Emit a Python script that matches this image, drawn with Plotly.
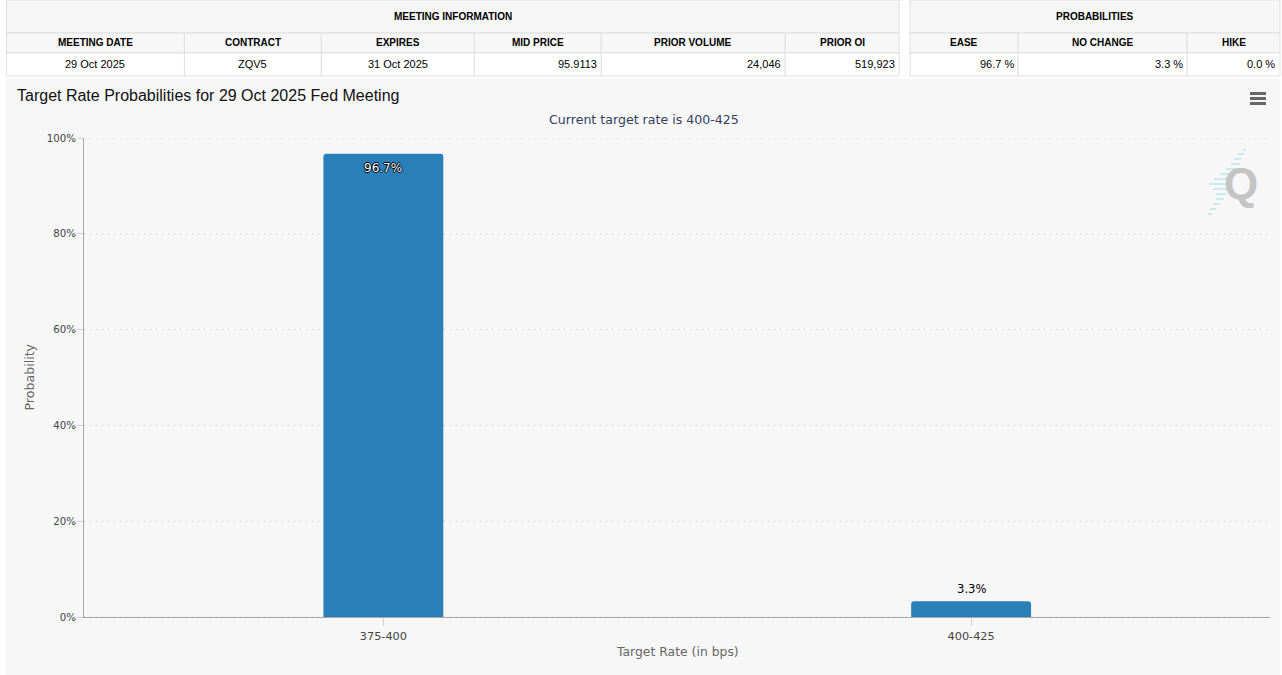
import plotly.graph_objects as go

# ---------- data ----------
categories = ["375-400", "400-425"]
probabilities = [96.7, 3.3]
bar_labels = ["96.7%", "3.3%"]
y_ticks = [0, 20, 40, 60, 80, 100]
y_tick_labels = ["0%", "20%", "40%", "60%", "80%", "100%"]

meeting_header = ["MEETING DATE", "CONTRACT", "EXPIRES", "MID PRICE", "PRIOR VOLUME", "PRIOR OI"]
meeting_values = ["29 Oct 2025", "ZQV5", "31 Oct 2025", "95.9113", "24,046", "519,923"]
meeting_aligns = ["center", "center", "center", "right", "right", "right"]
prob_header = ["EASE", "NO CHANGE", "HIKE"]
prob_values = ["96.7 %", "3.3 %", "0.0 %"]
prob_aligns = ["right", "right", "right"]

# ---------- page geometry (pixels) ----------
W, H = 1282, 675
L, R, T, B = 83.5, 1270, 138, 617
meeting_edges = [6, 184, 321, 474, 601, 785, 899]
prob_edges = [910, 1018, 1187, 1280]
ROWS = [0, 33, 53, 76]


def px(x):
    return (x - L) / (R - L)


def py(y):
    return (B - y) / (B - T)


shapes, notes = [], []


def rect(x0, y0, x1, y1, fill="rgba(0,0,0,0)", line="#e0e0e0", width=1):
    shapes.append(dict(type="rect", xref="paper", yref="paper", layer="below",
                       x0=px(x0), x1=px(x1), y0=py(y0), y1=py(y1), fillcolor=fill,
                       line=dict(color=line, width=width)))


def text(x, y, s, size=10, color="#000", family="Liberation Sans", anchor="center", bold=False, **kw):
    notes.append(dict(xref="paper", yref="paper", x=px(x), y=py(y), text=f"<b>{s}</b>" if bold else s,
                      showarrow=False, xanchor=anchor, yanchor="middle",
                      font=dict(size=size, color=color, family=family),
                      borderpad=0, borderwidth=0, **kw))


def table(edges, title, header, values, aligns):
    rect(edges[0], ROWS[0], edges[-1], ROWS[1], fill="#f7f7f7")
    text((edges[0] + edges[-1]) / 2, 16, title, size=10, bold=True)
    for i in range(len(header)):
        a, b = edges[i], edges[i + 1]
        rect(a, ROWS[1], b, ROWS[2], fill="#f7f7f7")
        rect(a, ROWS[2], b, ROWS[3], fill="#ffffff")
        text((a + b) / 2, 42.5, header[i], size=10, bold=True)
        if aligns[i] == "center":
            text((a + b) / 2, 64.5, values[i], size=11)
        else:
            text(b - 4.5, 64.5, values[i], size=11, anchor="right")


# chart panel
rect(6, 79, 1280, 675, fill="#f7f7f7", line="#f7f7f7")
table(meeting_edges, "MEETING INFORMATION", meeting_header, meeting_values, meeting_aligns)
table(prob_edges, "PROBABILITIES", prob_header, prob_values, prob_aligns)

# dotted gridlines, drawn so the 100% line is kept
for t in y_ticks:
    shapes.append(dict(type="line", xref="paper", yref="y", layer="below", x0=0, x1=1, y0=t, y1=t,
                       line=dict(color="#c4c4c4", width=1, dash="1px,5px")))

# titles
text(16, 95.5, "Target Rate Probabilities for 29 Oct 2025 Fed Meeting", size=16, anchor="left", color="#111")
text(644, 119.5, "Current target rate is 400-425", size=12.6, color="#333f5f", family="DejaVu Sans")
text(28, 377, "Probability", size=12.6, color="#666666", family="DejaVu Sans", textangle=-90)
text(677, 651.5, "Target Rate (in bps)", size=12.4, color="#666666", family="DejaVu Sans")

# menu icon
for yy in (93.5, 98.5, 103.5):
    shapes.append(dict(type="line", xref="paper", yref="paper", x0=px(1250), x1=px(1266),
                       y0=py(yy), y1=py(yy), line=dict(color="#666666", width=3)))

# watermark: streaks and letter
streaks = [(1243, 1246, 150), (1238, 1244, 154), (1234, 1241, 159), (1231, 1240, 164), (1226, 1236, 169),
           (1220, 1232, 174), (1214, 1228, 179), (1209, 1226, 184), (1213, 1227, 189), (1216, 1226, 194),
           (1216, 1224, 199), (1213, 1220, 204), (1210, 1216, 209), (1208, 1212, 214)]
for x0, x1, yy in streaks:
    shapes.append(dict(type="line", xref="paper", yref="paper", layer="below", x0=px(x0), x1=px(x1),
                       y0=py(yy), y1=py(yy), line=dict(color="#c8eaf0", width=2)))
text(1241, 183, "Q", size=44, color="#c4c4c4", bold=True)

x_pos = list(range(len(categories)))

# value labels anchored to the data
outline = ",".join(f"{a}px {b}px 0 #000000" for a, b in [(1, 0), (-1, 0), (0, 1), (0, -1)])
notes.append(dict(xref="x", yref="y", x=x_pos[0], y=probabilities[0], yshift=-14, text=bar_labels[0],
                  showarrow=False, yanchor="middle", borderpad=0,
                  font=dict(size=12, color="#ffffff", family="DejaVu Sans", shadow=outline)))
notes.append(dict(xref="x", yref="y", x=x_pos[1], y=probabilities[1], yshift=12, text=bar_labels[1],
                  showarrow=False, yanchor="middle", borderpad=0,
                  font=dict(size=11.6, color="#000000", family="DejaVu Sans")))

fig = go.Figure(go.Bar(
    x=x_pos,
    y=probabilities,
    width=0.204,
    marker=dict(color="#2a7fb8", line=dict(width=0), cornerradius=3),
    hoverinfo="skip",
))

fig.update_layout(
    width=W, height=H,
    margin=dict(l=L, r=W - R, t=T, b=H - B, pad=0),
    paper_bgcolor="#ffffff",
    plot_bgcolor="rgba(0,0,0,0)",
    showlegend=False,
    shapes=shapes,
    annotations=notes,
    xaxis=dict(
        range=[-0.5093, 1.5085],
        tickmode="array", tickvals=x_pos, ticktext=categories,
        showgrid=False, zeroline=False,
        showline=True, linecolor="#a8a8a8", linewidth=1,
        ticks="outside", ticklen=8, tickcolor="#d0d0d0", tickwidth=1,
        tickfont=dict(size=11.3, color="#444444", family="DejaVu Sans"),
        fixedrange=True,
    ),
    yaxis=dict(
        range=[0, 100],
        tickmode="array", tickvals=y_ticks, ticktext=y_tick_labels,
        showgrid=False,
        zeroline=False,
        showline=True, linecolor="#a8a8a8", linewidth=1,
        ticks="outside", ticklen=5, tickcolor="#d0d0d0", tickwidth=1,
        tickfont=dict(size=10.2, color="#444444", family="DejaVu Sans"),
        fixedrange=True,
    ),
)

fig.write_html("out.html", config={"displayModeBar": False},
               post_script="document.body.style.margin='0';document.body.style.overflow='hidden';")
